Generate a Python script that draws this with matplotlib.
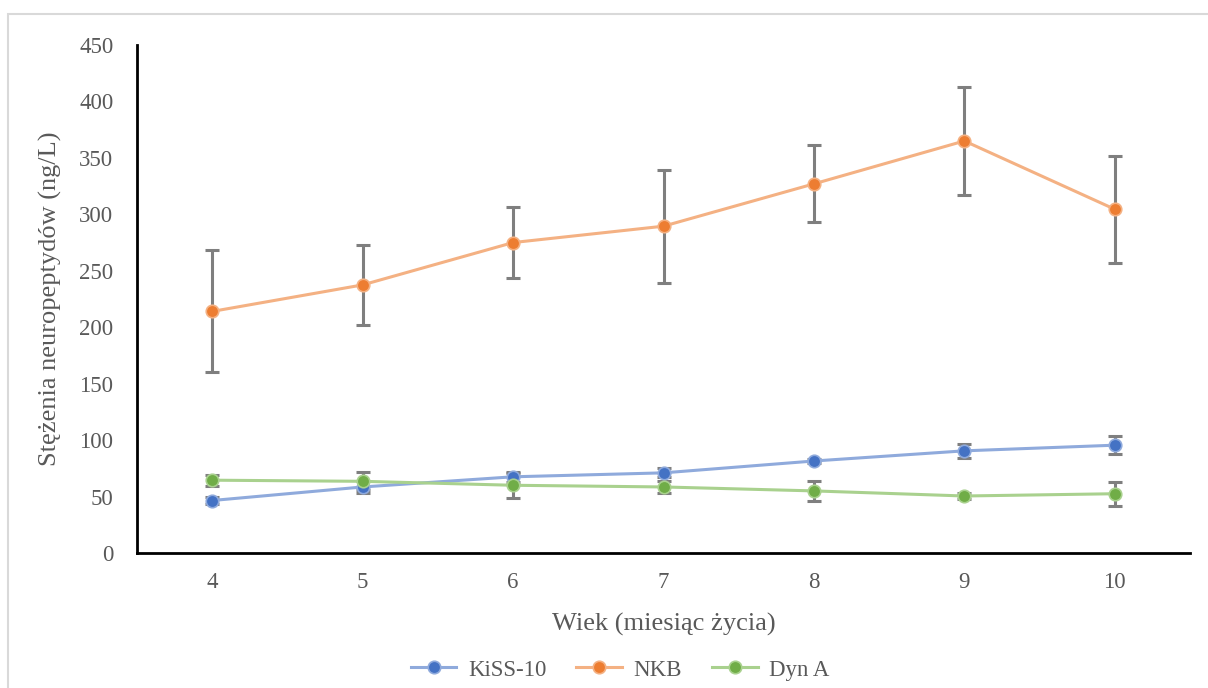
import matplotlib.pyplot as plt
from matplotlib.patches import Rectangle

months = [4, 5, 6, 7, 8, 9, 10]

kiss_mean = [46.5, 58.5, 67.5, 71, 81.5, 90.5, 95.5]
kiss_err = [3, 5, 4.5, 4, 2, 6, 8]

nkb_mean = [214, 237.5, 275, 289.5, 327, 365, 304.5]
nkb_err = [54, 35.5, 31.5, 50, 34, 48, 47.5]

dyn_mean = [64.5, 63.5, 60, 58.5, 55, 50.5, 52.5]
dyn_err = [5, 8, 11, 5, 8.5, 3, 10.5]

series = [
    ('KiSS-10', kiss_mean, kiss_err, '#4472C4', '#8FAADC'),
    ('NKB', nkb_mean, nkb_err, '#ED7D31', '#F4B183'),
    ('Dyn A', dyn_mean, dyn_err, '#70AD47', '#A9D18E'),
]

text_color = '#595959'
plt.rcParams['font.family'] = ['Liberation Serif', 'DejaVu Serif']

fig = plt.figure(figsize=(12.08, 6.88), dpi=100)
ax = fig.add_axes([137 / 1208, 1 - 553 / 688, (1190 - 137) / 1208, (553 - 45) / 688])

# thin frame around the whole chart area
fig.patches.append(Rectangle((8 / 1208, -0.01), 1.02, 1 - 14 / 688 + 0.01,
                             transform=fig.transFigure, fill=False,
                             edgecolor='#D9D9D9', lw=1.5))

for name, mean, err, color, light in series:
    ax.errorbar(months, mean, yerr=err, fmt='none', ecolor='#7F7F7F',
                elinewidth=2.2, capsize=5, capthick=2.2, zorder=2)
    ax.plot(months, mean, color=light, lw=2.2, zorder=3)
    ax.plot(months, mean, 'o', color=color, ms=9, markeredgecolor=light,
            markeredgewidth=1.2, zorder=4)
    ax.plot([], [], color=light, lw=2.2, marker='o', ms=9, mfc=color,
            mec=light, mew=1.2, label=name)

ax.set_xlim(3.5, 10.5)
ax.set_ylim(0, 450)
ax.set_xticks(months)
ax.set_yticks(range(0, 451, 50))
ax.tick_params(length=0, labelsize=16.5, colors=text_color)
ax.tick_params(axis='x', pad=14)
ax.tick_params(axis='y', pad=17)
for side in ['top', 'right']:
    ax.spines[side].set_visible(False)
for side in ['left', 'bottom']:
    ax.spines[side].set_color('black')
    ax.spines[side].set_linewidth(2)

ax.set_xlabel('Wiek (miesiąc życia)', fontsize=19, color=text_color, labelpad=14)
ax.set_ylabel('Stężenia neuropeptydów (ng/L)', fontsize=19, color=text_color, labelpad=12)

leg = ax.legend(loc='center', bbox_to_anchor=(620 / 1208, 1 - 670 / 688),
                bbox_transform=fig.transFigure, ncol=3, frameon=False,
                fontsize=16.5, handlelength=2, columnspacing=1.3, handletextpad=0.5)
for t in leg.get_texts():
    t.set_color(text_color)

fig.savefig('out.png', dpi=100)
